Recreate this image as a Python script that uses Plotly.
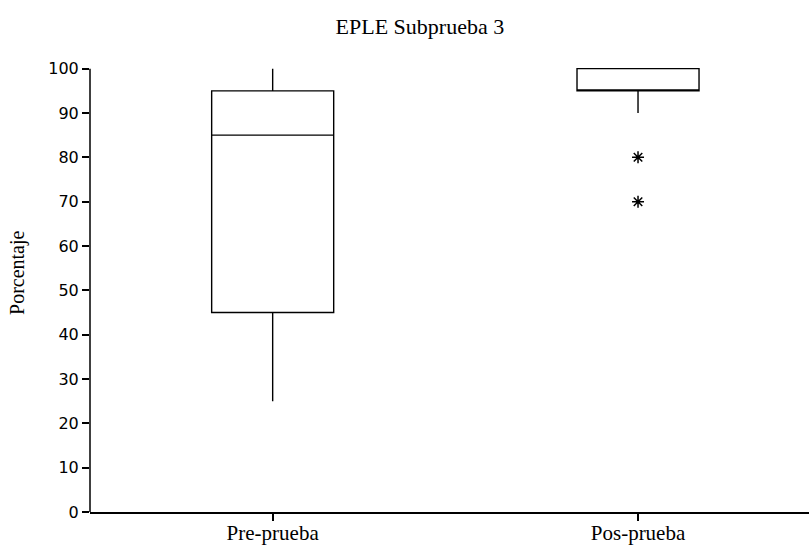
import plotly.graph_objects as go

categories = ["Pre-prueba", "Pos-prueba"]
q1 = [45, 95]
medians = [85, 95]
q3 = [95, 100]
lower_whisker = [25, 90]
upper_whisker = [100, 100]
outlier_x = ["Pos-prueba", "Pos-prueba"]
outlier_y = [80, 70]
y_ticks = [0, 10, 20, 30, 40, 50, 60, 70, 80, 90, 100]

serif = "Liberation Serif, Times New Roman, serif"
sans = "DejaVu Sans, Verdana, sans-serif"

fig = go.Figure()
fig.add_trace(go.Box(
    x=categories, q1=q1, median=medians, q3=q3,
    lowerfence=lower_whisker, upperfence=upper_whisker,
    fillcolor="white", line=dict(color="black", width=1.4),
    whiskerwidth=0, width=0.334, boxpoints=False, showlegend=False,
    hoverinfo="skip",
))
fig.add_trace(go.Scatter(
    x=outlier_x, y=outlier_y, mode="markers",
    marker=dict(symbol="asterisk-open", size=10, color="black",
                line=dict(color="black", width=1.5)),
    showlegend=False, hoverinfo="skip",
))

fig.update_layout(
    width=809, height=546,
    margin=dict(l=90, r=0, t=66, b=34),
    paper_bgcolor="white", plot_bgcolor="white",
    title=dict(text="EPLE Subprueba 3", x=0.519, xanchor="center",
               y=0.951, yanchor="middle",
               font=dict(family=serif, size=22, color="black")),
    xaxis=dict(type="category", categoryorder="array", categoryarray=categories,
               range=[-0.5, 1.468], showline=True, linecolor="black", linewidth=1.5,
               ticks="outside", ticklen=7, tickwidth=1.5, tickcolor="black",
               showgrid=False, zeroline=False, automargin=False,
               ticklabelstandoff=-6,
               tickfont=dict(family=serif, size=21, color="black")),
    yaxis=dict(range=[0, 100.6], tickvals=y_ticks, showline=False,
               ticks="outside", ticklen=7, tickwidth=1.5, tickcolor="black",
               showgrid=False, zeroline=False, automargin=False,
               tickfont=dict(family=sans, size=16, color="black")),
    shapes=[dict(type="line", xref="paper", yref="y", x0=0, x1=0, y0=0, y1=100,
                 line=dict(color="black", width=1.5))],
    annotations=[dict(text="Porcentaje", textangle=-90, xref="paper", yref="paper",
                      x=-0.1001, y=0.536, xanchor="center", yanchor="middle",
                      showarrow=False,
                      font=dict(family=serif, size=20, color="black"))],
)

fig.write_html("out.html")
